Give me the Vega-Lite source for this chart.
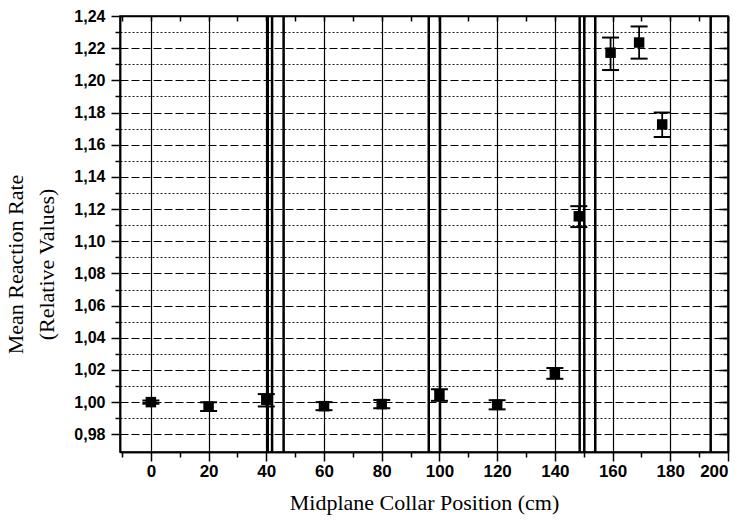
{
  "$schema": "https://vega.github.io/schema/vega-lite/v6.json",
  "width": 608,
  "height": 436,
  "autosize": "none",
  "padding": {"left": 120, "top": 16, "right": 15, "bottom": 71},
  "background": "white",
  "config": {
    "view": {"stroke": "black", "strokeWidth": 1.5},
    "axis": {
      "domainColor": "black", "domainWidth": 1.5,
      "tickColor": "black", "tickWidth": 1.5,
      "gridColor": "black", "gridWidth": 1, "gridOpacity": 1,
      "labelFont": "Liberation Sans", "labelFontWeight": "bold", "labelFontSize": 16, "labelColor": "black",
      "titleFont": "Liberation Serif", "titleFontSize": 22, "titleFontWeight": "normal", "titleColor": "black"
    }
  },
  "datasets": {
    "pts": [
      {"x": 0, "y": 1.0, "lo": 0.999, "hi": 1.001},
      {"x": 20, "y": 0.9972, "lo": 0.9945, "hi": 0.9999},
      {"x": 40, "y": 1.0015, "lo": 0.9973, "hi": 1.005},
      {"x": 60, "y": 0.9975, "lo": 0.995, "hi": 1.0},
      {"x": 80, "y": 0.9988, "lo": 0.9962, "hi": 1.0013},
      {"x": 100, "y": 1.0045, "lo": 1.0008, "hi": 1.008},
      {"x": 120, "y": 0.9983, "lo": 0.9955, "hi": 1.0012},
      {"x": 140, "y": 1.018, "lo": 1.0145, "hi": 1.0212},
      {"x": 148.3, "y": 1.1155, "lo": 1.1088, "hi": 1.1218},
      {"x": 159.3, "y": 1.2172, "lo": 1.2064, "hi": 1.2266},
      {"x": 169.2, "y": 1.2235, "lo": 1.2135, "hi": 1.2335},
      {"x": 177.2, "y": 1.1726, "lo": 1.1648, "hi": 1.18}
    ],
    "bounds": [
      {"x": 40.5}, {"x": 42}, {"x": 46}, {"x": 96.3}, {"x": 100.2},
      {"x": 148.6}, {"x": 150.2}, {"x": 154}, {"x": 194}
    ]
  },
  "resolve": {"axis": {"x": "independent", "y": "independent"}},
  "layer": [
    {
      "data": {"name": "pts"},
      "mark": {"type": "point", "opacity": 0},
      "encoding": {
        "x": {"field": "x", "type": "quantitative",
          "scale": {"domain": [-10.7, 200], "nice": false, "zero": false},
          "axis": {"orient": "bottom", "values": [-10, 10, 30, 50, 70, 90, 110, 130, 150, 170, 190], "tickSize": 5, "labels": false, "grid": false, "title": null}},
        "y": {"field": "y", "type": "quantitative",
          "scale": {"domain": [0.969, 1.24], "nice": false, "zero": false},
          "axis": {"orient": "left", "values": [0.99, 1.01, 1.03, 1.05, 1.07, 1.09, 1.11, 1.13, 1.15, 1.17, 1.19, 1.21, 1.23], "tickSize": 5, "labels": false, "grid": true, "gridDash": [2, 2], "gridWidth": 0.9, "title": null}}
      }
    },
    {
      "data": {"name": "pts"},
      "mark": {"type": "point", "opacity": 0},
      "encoding": {
        "x": {"field": "x", "type": "quantitative",
          "scale": {"domain": [-10.7, 200], "nice": false, "zero": false},
          "axis": {"orient": "bottom", "values": [0, 20, 40, 60, 80, 100, 120, 140, 160, 180, 200], "tickSize": 9, "labelPadding": 2, "grid": true, "gridWidth": 1.2, "title": "Midplane Collar Position (cm)", "titlePadding": 13, "labelFontSize": 17}},
        "y": {"field": "y", "type": "quantitative",
          "scale": {"domain": [0.969, 1.24], "nice": false, "zero": false},
          "axis": {"orient": "left", "values": [0.98, 1.0, 1.02, 1.04, 1.06, 1.08, 1.1, 1.12, 1.14, 1.16, 1.18, 1.2, 1.22, 1.24], "tickSize": 9, "labelPadding": 6, "grid": true, "gridDash": [8, 3],
            "labelExpr": "replace(format(datum.value, '.2f'), '.', ',')",
            "title": ["Mean Reaction Rate", "(Relative Values)"], "titleLineHeight": 31, "titlePadding": 15, "titleY": 248}}
      }
    },
    {
      "data": {"name": "pts"},
      "mark": {"type": "point", "opacity": 0},
      "encoding": {
        "x": {"field": "x", "type": "quantitative",
          "scale": {"domain": [-10.7, 200], "nice": false, "zero": false},
          "axis": {"orient": "top", "values": [-10, 0, 10, 20, 30, 40, 50, 60, 70, 80, 90, 100, 110, 120, 130, 140, 150, 160, 170, 180, 190, 200], "tickSize": -5, "labels": false, "grid": false, "title": null}},
        "y": {"field": "y", "type": "quantitative",
          "scale": {"domain": [0.969, 1.24], "nice": false, "zero": false},
          "axis": {"orient": "right", "values": [0.98, 0.99, 1.0, 1.01, 1.02, 1.03, 1.04, 1.05, 1.06, 1.07, 1.08, 1.09, 1.1, 1.11, 1.12, 1.13, 1.14, 1.15, 1.16, 1.17, 1.18, 1.19, 1.2, 1.21, 1.22, 1.23], "tickSize": -5, "labels": false, "grid": false, "title": null}}
      }
    },
    {
      "data": {"name": "pts"},
      "mark": {"type": "point", "opacity": 0},
      "encoding": {
        "x": {"field": "x", "type": "quantitative", "axis": null},
        "y": {"field": "y", "type": "quantitative",
          "axis": {"orient": "right", "values": [0.98, 1.0, 1.02, 1.04, 1.06, 1.08, 1.1, 1.12, 1.14, 1.16, 1.18, 1.2, 1.22], "tickSize": -9, "labels": false, "grid": false, "title": null}}
      }
    },
    {
      "data": {"name": "bounds"},
      "mark": {"type": "rule", "color": "black", "strokeWidth": 2.5},
      "encoding": {
        "x": {"field": "x", "type": "quantitative", "axis": null}
      }
    },
    {
      "data": {"name": "pts"},
      "mark": {"type": "rule", "color": "black", "strokeWidth": 1.8},
      "encoding": {
        "x": {"field": "x", "type": "quantitative", "axis": null},
        "y": {"field": "lo", "type": "quantitative", "axis": null},
        "y2": {"field": "hi"}
      }
    },
    {
      "data": {"name": "pts"},
      "mark": {"type": "tick", "orient": "horizontal", "color": "black", "size": 17, "thickness": 2, "opacity": 1},
      "encoding": {
        "x": {"field": "x", "type": "quantitative", "axis": null},
        "y": {"field": "lo", "type": "quantitative", "axis": null}
      }
    },
    {
      "data": {"name": "pts"},
      "mark": {"type": "tick", "orient": "horizontal", "color": "black", "size": 17, "thickness": 2, "opacity": 1},
      "encoding": {
        "x": {"field": "x", "type": "quantitative", "axis": null},
        "y": {"field": "hi", "type": "quantitative", "axis": null}
      }
    },
    {
      "data": {"name": "pts"},
      "mark": {"type": "point", "shape": "square", "filled": true, "color": "black", "size": 110, "opacity": 1},
      "encoding": {
        "x": {"field": "x", "type": "quantitative", "axis": null},
        "y": {"field": "y", "type": "quantitative", "axis": null}
      }
    }
  ]
}
